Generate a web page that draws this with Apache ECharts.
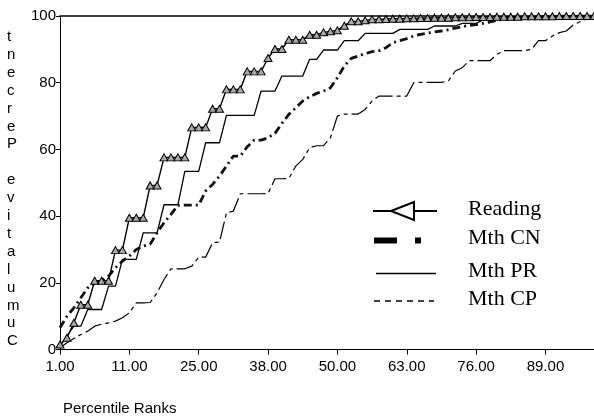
<!DOCTYPE html>
<html>
<head>
<meta charset="utf-8">
<script src="https://cdn.jsdelivr.net/npm/echarts@6/dist/echarts.min.js"></script>
<style>
  html, body { margin: 0; padding: 0; background: #fff; }
  #chart { width: 594px; height: 417px; }
</style>
</head>
<body>
<div id="chart"></div>
<script>
// Percentile ranks observed (category axis)
const percentileRanks = [1,2,3,4,5,6,7,8,9,10,11,12,14,15,17,18,20,21,23,24,25,26,27,29,30,31,33,34,35,37,38,39,40,42,43,44,45,46,47,49,50,51,52,54,55,56,57,59,60,62,63,64,65,67,68,69,71,72,73,75,76,77,78,80,81,82,84,85,86,88,89,90,92,93,94,96,97,99];

// Cumulative percent per test
const reading = [1.5,3.5,8,13.4,13.4,20.6,20.6,20.6,29.8,29.8,
  39.5,39.5,39.5,49.2,49.2,57.6,57.6,57.6,57.6,66.6,
  66.6,66.6,72.2,72.2,78,78,78,83.4,83.4,83.4,
  87.4,90.1,90.1,92.9,92.9,92.9,94.4,94.4,95.1,95.4,
  95.7,97.1,98.4,98.4,98.7,99,99,99.1,99.2,99.2,
  99.3,99.3,99.4,99.4,99.5,99.5,99.5,99.6,99.6,99.6,
  99.7,99.7,99.7,99.8,99.8,99.8,99.8,99.9,99.9,99.9,
  99.9,99.9,100,100,100,100,100,100];

const mthCN = [6.5,10,12.5,15.5,18.5,20,20.6,22,24.5,26.5,
  28,30,31,31.6,35,38,40.5,43.2,43.3,43.3,
  43.3,47.5,49.5,52,55,58,58,60.8,62.8,62.8,
  63.5,64.8,67.8,70.5,72.5,74.5,75.8,76.8,77.5,78.5,
  81.5,85,87.3,88,88.7,89.3,89.6,90.5,92,92.6,
  93.2,94,94.5,94.9,95.2,95.5,95.9,96.4,96.8,97.2,
  97.4,97.8,98.2,98.7,99,99.3,99.5,99.6,99.7,99.8,
  99.8,99.9,99.9,100,100,100,100,100];

const mthPR = [1,4,7,7,12,12,12,19,19,27,
  27,27,35,35,35,43.4,43.4,43.4,53.4,53.4,
  53.4,62,62,62,70.2,70.2,70.2,70.2,70.2,77.5,
  77.5,77.5,82,82,82,82,87,87,89.8,89.8,
  89.8,92.6,92.6,92.6,94.8,94.8,94.8,94.8,94.8,96,
  96,96,96,96,97,97,97,97,97.8,97.8,
  97.8,98.8,99,99.2,99.4,99.5,99.6,99.7,99.8,99.8,
  99.9,99.9,100,100,100,100,100,100];

const mthCP = [0.5,2,3.3,4.5,5.5,7,7.6,8,8.5,9.5,
  11,14,14,14.1,17,21,24.2,24.2,24.2,25,
  27.7,27.7,32,32.2,41,41.5,46.7,46.7,46.7,46.7,
  46.8,51.2,51.2,51.3,55,57,60.5,61.1,61.1,63.5,
  70,70.6,70.6,70.6,72,74.5,76,76,76,76,
  76,80,80.1,80.1,80.1,80.1,80.5,83.5,84.5,86.6,
  86.6,86.6,86.6,88.5,89.6,89.6,89.6,89.6,90,92.6,
  92.6,94,95,95.5,97.3,98.3,99.2,100];

const yTicks = [0, 20, 40, 60, 80, 100];
const seriesNames = ['Reading', 'Mth CN', 'Mth PR', 'Mth CP'];
const yTitle = 'Cumulative Percent';
const xTitle = 'Percentile Ranks';

const sans = '"Liberation Sans", Arial, sans-serif';
const serif = '"Liberation Serif", "Times New Roman", serif';

const chart = echarts.init(document.getElementById('chart'), null, { renderer: 'canvas' });

// Legend block (drawn as graphics so each key can carry its own glyph)
const lgX = 373, lgTextX = 468;
const lgY = [211, 240.5, 273.5, 301];
const legendGraphics = [
  { type: 'line', shape: { x1: lgX, y1: lgY[0], x2: lgX + 64, y2: lgY[0] }, style: { stroke: '#000', lineWidth: 2 } },
  { type: 'polygon', shape: { points: [[lgX + 18, lgY[0]], [lgX + 41, lgY[0] - 9], [lgX + 41, lgY[0] + 9]] }, style: { fill: '#fff', stroke: '#000', lineWidth: 2 } },
  { type: 'rect', shape: { x: lgX + 1, y: lgY[1] - 3, width: 23, height: 6 }, style: { fill: '#000' } },
  { type: 'rect', shape: { x: lgX + 42, y: lgY[1] - 3, width: 6, height: 6 }, style: { fill: '#000' } },
  { type: 'line', shape: { x1: lgX + 3, y1: lgY[2], x2: lgX + 63, y2: lgY[2] }, style: { stroke: '#000', lineWidth: 1.5 } },
  { type: 'line', shape: { x1: lgX + 1, y1: lgY[3], x2: lgX + 61, y2: lgY[3] }, style: { stroke: '#000', lineWidth: 1.5, lineDash: [6, 5] } }
];
seriesNames.forEach(function (name, i) {
  legendGraphics.push({
    type: 'text', left: lgTextX, top: lgY[i] - 13,
    style: { text: name, font: '22px ' + serif, fill: '#000' }
  });
});

const option = {
  animation: false,
  backgroundColor: '#fff',
  grid: { left: 60, right: 0, top: 16, bottom: 67.5, containLabel: false },
  xAxis: [{
    type: 'category',
    data: percentileRanks,
    boundaryGap: false,
    axisLine: { lineStyle: { color: '#000', width: 1 } },
    axisTick: { show: true, interval: 9, length: 5, lineStyle: { color: '#000' } },
    axisLabel: {
      interval: 9, margin: 10, color: '#000',
      fontFamily: sans, fontSize: 15,
      formatter: function (v) { return Number(v).toFixed(2); }
    },
    splitLine: { show: false }
  }, {
    type: 'category',
    data: percentileRanks,
    position: 'top',
    boundaryGap: false,
    axisLine: { show: true, lineStyle: { color: '#000', width: 1.5 } },
    axisTick: { show: false },
    axisLabel: { show: false },
    splitLine: { show: false }
  }],
  yAxis: {
    type: 'value',
    min: yTicks[0], max: yTicks[yTicks.length - 1], interval: 20,
    axisLine: { show: true, lineStyle: { color: '#000', width: 1 } },
    axisTick: { show: true, length: 4, lineStyle: { color: '#000' } },
    axisLabel: { margin: 4, color: '#000', fontFamily: sans, fontSize: 15 },
    splitLine: { show: false }
  },
  graphic: [
    {
      type: 'text', left: 7, top: 28,
      style: {
        text: yTitle.split('').reverse().join('\n'),
        font: '15px ' + sans, fill: '#000', lineHeight: 17.9, align: 'center', width: 14
      }
    },
    {
      type: 'text', left: 63, top: 401,
      style: { text: xTitle, font: '15px ' + sans, fill: '#000' }
    }
  ].concat(legendGraphics),
  series: [
    {
      name: seriesNames[3], type: 'line', data: mthCP,
      symbol: 'none', z: 2,
      lineStyle: { color: '#000', width: 1.2, type: [18, 4, 4, 4] }
    },
    {
      name: seriesNames[2], type: 'line', data: mthPR,
      symbol: 'none', z: 3,
      lineStyle: { color: '#000', width: 1.3 }
    },
    {
      name: seriesNames[1], type: 'line', data: mthCN,
      symbol: 'none', z: 4,
      lineStyle: { color: '#111', width: 2.8, type: [8, 4, 2, 4] }
    },
    {
      name: seriesNames[0], type: 'line', data: reading,
      symbol: 'triangle', symbolSize: [8, 7], showAllSymbol: true, z: 5,
      itemStyle: { color: '#aaa', borderColor: '#000', borderWidth: 1 },
      lineStyle: { color: '#000', width: 1.4 }
    }
  ]
};

chart.setOption(option);
</script>
</body>
</html>
